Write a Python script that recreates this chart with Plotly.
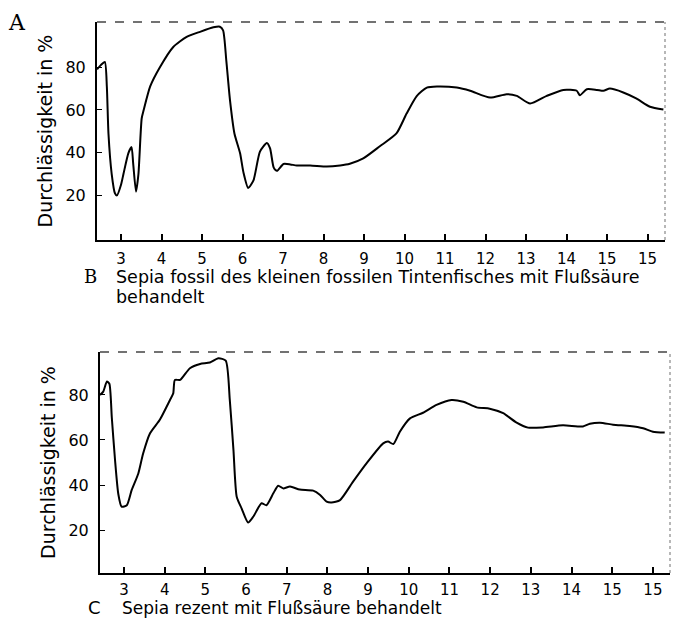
import plotly.graph_objects as go

# ---- data ----
x_fossil = [2.41, 2.5, 2.6, 2.65, 2.69, 2.77, 2.85, 2.9, 3.0, 3.06, 3.18, 3.26, 3.3, 3.37, 3.43,
            3.51, 3.56, 3.72, 3.96, 4.29, 4.62, 4.95, 5.28, 5.44, 5.52, 5.6, 5.69, 5.8, 5.94, 6.02,
            6.14, 6.27, 6.43, 6.6, 6.68, 6.77, 6.85, 7.01, 7.18, 7.34, 7.67, 8.08, 8.41, 8.65, 8.98,
            9.39, 9.8, 10.05, 10.3, 10.55, 10.8, 11.29, 11.62, 12.11, 12.52, 12.77, 13.1, 13.51,
            13.92, 14.25, 14.33, 14.5, 14.75, 14.91, 15.07, 15.4, 15.73, 16.06, 16.39]
y_fossil = [79, 81, 82.5, 71, 49, 30, 21, 20, 25, 30, 39.7, 42.6, 35, 21.7, 30,
            56, 60, 71, 80, 89.5, 94.2, 96.6, 98.7, 99, 97.3, 83, 64.6, 49, 39.7, 31,
            23.5, 27, 40.5, 44.5, 42, 33, 31.5, 34.7, 34.5, 34, 34, 33.5, 34, 34.8, 37.3,
            43, 49, 58.3, 66.5, 70.5, 71, 70.5, 69, 65.8, 67.4, 66.6, 63, 66.6,
            69.4, 69, 66.9, 69.7, 69.4, 69, 70, 68.2, 65.3, 61.5, 60.2]

x_rezent = [2.41, 2.49, 2.58, 2.64, 2.7, 2.78, 2.86, 2.94, 3.07, 3.19, 3.35, 3.47, 3.64, 3.88,
            4.13, 4.21, 4.25, 4.38, 4.62, 4.87, 5.11, 5.32, 5.5, 5.6, 5.69, 5.77, 5.89, 6.05,
            6.18, 6.38, 6.5, 6.67, 6.79, 6.91, 7.08, 7.32, 7.65, 7.82, 7.98, 8.1, 8.31, 8.63,
            8.96, 9.37, 9.49, 9.62, 9.78, 10.03, 10.35, 10.68, 11.05, 11.34, 11.67, 11.99,
            12.32, 12.65, 12.93, 13.3, 13.79, 14.28, 14.45, 14.7, 15.02, 15.43, 15.76, 16.0, 16.29]
y_rezent = [80, 81.5, 86, 85, 70, 51, 36, 30.4, 31, 37.8, 45, 54, 63, 69,
            77.8, 80.7, 86.7, 86.7, 91.9, 93.8, 94.4, 96.3, 95.3, 77.8, 55.6, 34.8, 29.6, 23.3,
            26, 31.9, 31, 36.3, 39.7, 38.5, 39.3, 38, 37.5, 35.6, 32.6, 32.2, 33.3, 41.5,
            49.6, 58.5, 59.3, 58.2, 63.7, 69.6, 72.1, 75.6, 77.8, 77, 74.5, 73.9,
            71.9, 67.7, 65.5, 65.6, 66.5, 66, 67.2, 67.7, 66.8, 66.2, 65.2, 63.7, 63.3]

x_tickvals = [3, 4, 5, 6, 7, 8, 9, 10, 11, 12, 13, 14, 15, 16]
x_ticktext = ["3", "4", "5", "6", "7", "8", "9", "10", "11", "12", "13", "14", "15", "15"]
y_tickvals = [20, 40, 60, 80]
y_title = "Durchlässigkeit in %"
caption_b = "Sepia fossil des kleinen fossilen Tintenfisches mit Flußsäure"
caption_b2 = "behandelt"
caption_c = "Sepia rezent mit Flußsäure behandelt"

W, H = 675, 618
FONT = "DejaVu Sans"


def px(x):
    return x / W


def py(y):
    return 1 - y / H


fig = go.Figure()
fig.add_trace(go.Scatter(x=x_fossil, y=y_fossil, mode="lines", xaxis="x", yaxis="y",
                         line=dict(color="black", width=2, shape="spline", smoothing=0.6),
                         showlegend=False, hoverinfo="skip"))
fig.add_trace(go.Scatter(x=x_rezent, y=y_rezent, mode="lines", xaxis="x2", yaxis="y2",
                         line=dict(color="black", width=2, shape="spline", smoothing=0.6),
                         showlegend=False, hoverinfo="skip"))


def xaxis_style(standoff):
    return dict(tickmode="array", tickvals=x_tickvals, ticktext=x_ticktext, ticks="inside",
                ticklen=6, tickwidth=1.5, tickcolor="black", showgrid=False, zeroline=False,
                showline=True, linecolor="black", linewidth=2,
                tickfont=dict(family=FONT, size=15, color="black"), automargin=False,
                ticklabelstandoff=standoff)


ycommon = dict(tickmode="array", tickvals=y_tickvals, ticks="inside", ticklen=5, tickwidth=1.2,
               tickcolor="black", showgrid=False, zeroline=False, showline=True,
               linecolor="black", linewidth=2,
               tickfont=dict(family=FONT, size=16, color="black"), automargin=False,
               ticklabelstandoff=6)

fig.update_layout(
    width=W, height=H,
    margin=dict(l=0, r=0, t=0, b=0),
    paper_bgcolor="white", plot_bgcolor="white",
    xaxis=dict(domain=[px(97), px(665)], range=[2.407, 16.43], anchor="y", **xaxis_style(4)),
    yaxis=dict(domain=[py(240), py(22)], range=[-0.9, 101.2], anchor="x",
               title=dict(text=y_title, font=dict(family=FONT, size=19, color="black"), standoff=8),
               **ycommon),
    xaxis2=dict(domain=[px(100), px(670)], range=[2.41, 16.42], anchor="y2", **xaxis_style(2)),
    yaxis2=dict(domain=[py(573), py(352)], range=[0.9, 99.1], anchor="x2",
                title=dict(text=y_title, font=dict(family=FONT, size=19, color="black"), standoff=8),
                **ycommon),
)

# broken top/right frame lines
for xr, yr in (("x domain", "y domain"), ("x2 domain", "y2 domain")):
    fig.add_shape(type="line", xref=xr, yref=yr, x0=0, x1=1, y0=1, y1=1,
                  line=dict(color="#444", width=1.5, dash="dash"))
    fig.add_shape(type="line", xref=xr, yref=yr, x0=1, x1=1, y0=0, y1=1,
                  line=dict(color="#888", width=1.2, dash="dot"))

ann = [
    dict(text="A", x=px(17), y=py(22), font=dict(family="DejaVu Serif", size=22, color="black")),
    dict(text="B", x=px(90), y=py(276), font=dict(family="DejaVu Serif", size=18, color="black")),
    dict(text=caption_b, x=px(114), y=py(277), xanchor="left",
         font=dict(family=FONT, size=17.5, color="black")),
    dict(text=caption_b2, x=px(114), y=py(297), xanchor="left",
         font=dict(family=FONT, size=17.5, color="black")),
    dict(text="C", x=px(94), y=py(607), font=dict(family="DejaVu Sans", size=18, color="black")),
    dict(text=caption_c, x=px(120), y=py(607.5), xanchor="left",
         font=dict(family=FONT, size=17, color="black")),
]
for a in ann:
    a.setdefault("xanchor", "center")
    fig.add_annotation(xref="paper", yref="paper", yanchor="middle", showarrow=False, **a)

fig.write_html("out.html", config={"displayModeBar": False},
               post_script="document.body.style.margin='0';")
